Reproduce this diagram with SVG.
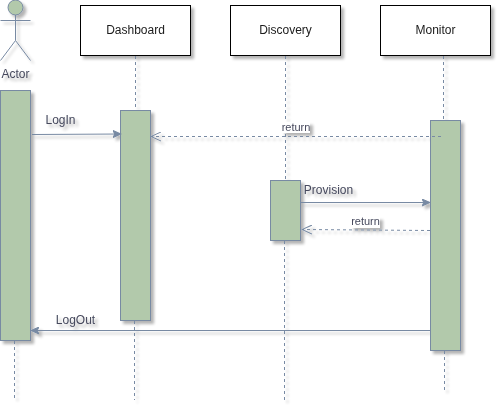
<svg xmlns="http://www.w3.org/2000/svg" width="502" height="413" viewBox="0 0 502 413">
  <style>
    text { font-family: "Liberation Sans", Arial, sans-serif; font-size: 12px; fill: #46495D; text-anchor: middle; }
    .s { fill: none; stroke: #788AA3; }
    .a { fill: #B2C9AB; stroke: #788AA3; }
    .h { fill: #fff; stroke: #000; }
    .d { stroke-dasharray: 3 3; }
    .bg { fill: #fff; }
    .t { fill: #1a1a1a; }
    .r { font-size: 11px; }
  </style>
  <defs>
    <filter id="sh" x="-20%" y="-20%" width="150%" height="150%">
      <feGaussianBlur in="SourceAlpha" stdDeviation="1.7"/>
      <feOffset dx="3" dy="3"/>
      <feComponentTransfer><feFuncA type="linear" slope="0.3"/></feComponentTransfer>
      <feMerge><feMergeNode/><feMergeNode in="SourceGraphic"/></feMerge>
    </filter>
    <marker id="fill" markerUnits="userSpaceOnUse" markerWidth="9" markerHeight="8" refX="8" refY="4" orient="auto">
      <path d="M0 0.5L8 4L0 7.5L1.8 4Z" fill="#788AA3" stroke="#788AA3"/>
    </marker>
    <marker id="open" markerUnits="userSpaceOnUse" markerWidth="11" markerHeight="10" refX="10" refY="5" orient="auto">
      <path d="M0 0.5L10 5L0 9.5" fill="none" stroke="#788AA3"/>
    </marker>
  </defs>
  <rect width="502" height="413" fill="#fff"/>
  <g filter="url(#sh)">
    <g id="actor">
      <circle class="a" cx="15.5" cy="7.5" r="7.5"/>
      <path class="s" d="M15.5 15V40.5M0.5 20.5H30.5M15.5 40.5L0.5 60.5M15.5 40.5L30.5 60.5"/>
      <text x="15.5" y="78">Actor</text>
    </g>
    <g id="dashboard">
      <rect class="h" x="80.5" y="5.5" width="110" height="50"/>
      <text class="t" x="135.5" y="34">Dashboard</text>
    </g>
    <g id="discovery">
      <rect class="h" x="230.5" y="5.5" width="110" height="50"/>
      <text class="t" x="285.5" y="34">Discovery</text>
    </g>
    <g id="monitor">
      <rect class="h" x="380.5" y="5.5" width="110" height="50"/>
      <text class="t" x="435.5" y="34">Monitor</text>
    </g>
    <g id="lifelines">
      <path class="s d" d="M14.5 341V398"/>
      <path class="s d" d="M135.5 56V110M134.5 321V400"/>
      <path class="s d" d="M285.5 56V180M284.5 241V401"/>
      <path class="s d" d="M443.5 56V120M444.5 351V390"/>
    </g>
    <g id="activation-actor"><rect class="a" x="0.5" y="90.5" width="30" height="250"/></g>
    <g id="activation-dashboard"><rect class="a" x="120.5" y="110.5" width="30" height="210"/></g>
    <g id="activation-discovery"><rect class="a" x="270.5" y="180.5" width="30" height="60"/></g>
    <g id="activation-monitor"><rect class="a" x="430.5" y="120.5" width="30" height="230"/></g>
    <g id="connectors">
      <path class="s" d="M32 134.5L121 134" marker-end="url(#fill)"/>
      <path class="s d" d="M441 136.5H151" marker-end="url(#open)"/>
      <path class="s" d="M301 202.5H430" marker-end="url(#fill)"/>
      <path class="s d" d="M430 230.5L302 229.5" marker-end="url(#open)"/>
      <path class="s" d="M430 330.5H31" marker-end="url(#fill)"/>
      <text x="60.5" y="124">LogIn</text>
      <rect class="bg" x="282" y="122" width="28" height="11"/>
      <text class="r" x="296" y="131">return</text>
      <text x="328.5" y="194">Provision</text>
      <rect class="bg" x="351" y="217" width="29" height="11"/>
      <text class="r" x="365.5" y="225">return</text>
      <text x="75.5" y="324">LogOut</text>
    </g>
  </g>
</svg>
